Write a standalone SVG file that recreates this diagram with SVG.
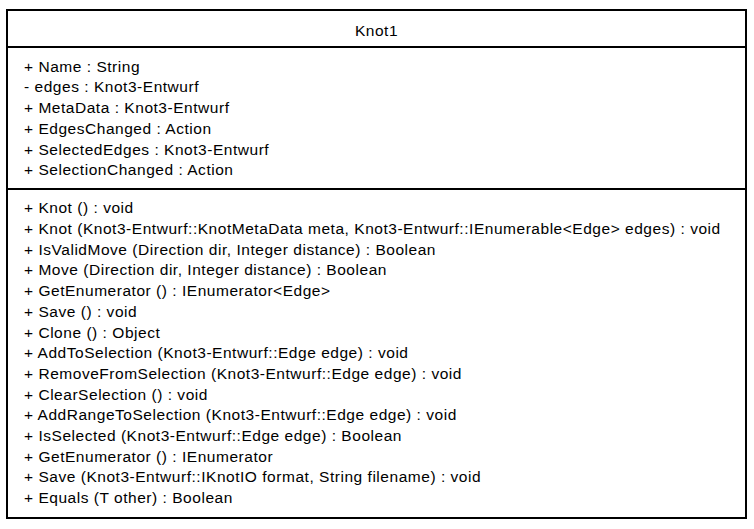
<svg xmlns="http://www.w3.org/2000/svg" width="754" height="529" viewBox="0 0 754 529">
  <style>
    .box { fill: #ffffff; stroke: #000000; stroke-width: 2; }
    .sep { stroke: #000000; stroke-width: 2; }
    .t { font-family: "Liberation Sans", Arial, sans-serif; font-size: 15.5px; letter-spacing: 0.53px; fill: #000000; }
    .title { text-anchor: middle; }
  </style>
  <rect width="754" height="529" fill="#ffffff"/>
  <g id="class-Knot1">
    <rect class="box" x="7" y="10" width="739" height="508"/>
    <line class="sep" x1="7" y1="47" x2="746" y2="47"/>
    <line class="sep" x1="7" y1="189" x2="746" y2="189"/>
    <text class="t title" x="376.5" y="35.5">Knot1</text>
    <g id="attributes">
      <text class="t" x="24" y="71.5">+ Name : String</text>
      <text class="t" x="24" y="92.3">- edges : Knot3-Entwurf</text>
      <text class="t" x="24" y="113">+ MetaData : Knot3-Entwurf</text>
      <text class="t" x="24" y="133.8">+ EdgesChanged : Action</text>
      <text class="t" x="24" y="154.6">+ SelectedEdges : Knot3-Entwurf</text>
      <text class="t" x="24" y="175.4">+ SelectionChanged : Action</text>
    </g>
    <g id="operations">
      <text class="t" x="24" y="213.3">+ Knot () : void</text>
      <text class="t" x="24" y="234">+ Knot (Knot3-Entwurf::KnotMetaData meta, Knot3-Entwurf::IEnumerable&lt;Edge&gt; edges) : void</text>
      <text class="t" x="24" y="254.7">+ IsValidMove (Direction dir, Integer distance) : Boolean</text>
      <text class="t" x="24" y="275.4">+ Move (Direction dir, Integer distance) : Boolean</text>
      <text class="t" x="24" y="296.1">+ GetEnumerator () : IEnumerator&lt;Edge&gt;</text>
      <text class="t" x="24" y="316.8">+ Save () : void</text>
      <text class="t" x="24" y="337.5">+ Clone () : Object</text>
      <text class="t" x="24" y="358.2">+ AddToSelection (Knot3-Entwurf::Edge edge) : void</text>
      <text class="t" x="24" y="378.9">+ RemoveFromSelection (Knot3-Entwurf::Edge edge) : void</text>
      <text class="t" x="24" y="399.6">+ ClearSelection () : void</text>
      <text class="t" x="24" y="420.3">+ AddRangeToSelection (Knot3-Entwurf::Edge edge) : void</text>
      <text class="t" x="24" y="441">+ IsSelected (Knot3-Entwurf::Edge edge) : Boolean</text>
      <text class="t" x="24" y="461.7">+ GetEnumerator () : IEnumerator</text>
      <text class="t" x="24" y="482.4">+ Save (Knot3-Entwurf::IKnotIO format, String filename) : void</text>
      <text class="t" x="24" y="503.1">+ Equals (T other) : Boolean</text>
    </g>
  </g>
</svg>
